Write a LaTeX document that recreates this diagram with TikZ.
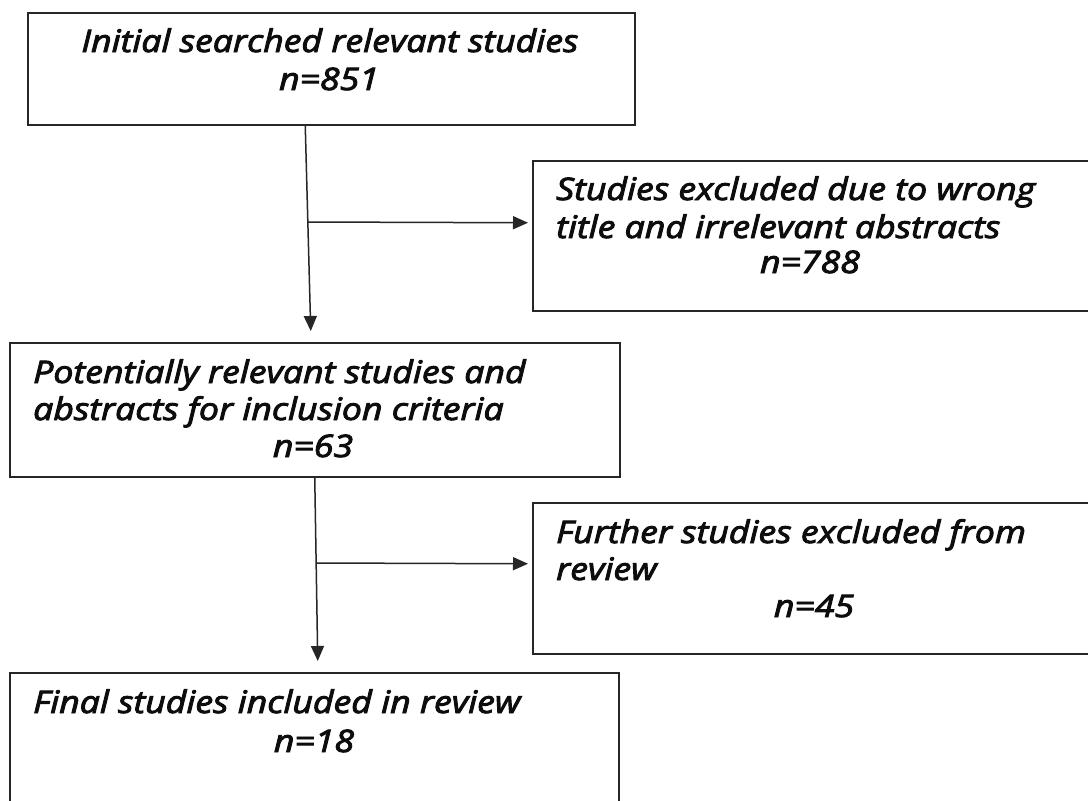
\documentclass[tikz,border=0pt]{standalone}
\usepackage{fontspec}
\setmainfont{Open Sans}
\newfontfamily\boxfont{Open Sans}[ItalicFeatures={FakeBold=3, FakeStretch=1.15}]
\usepackage{tikz}
\usetikzlibrary{positioning}
\usetikzlibrary{arrows.meta}
\tikzset{>={Triangle[length=15pt,width=13pt]}}
\tikzset{stagebox/.style={draw=black!85, line width=1.5pt, rectangle, inner sep=0pt, anchor=north west},
  boxtext/.style={font=\boxfont\itshape\fontsize{31}{37}\selectfont, inner sep=0pt, text=black!95},
  flowline/.style={draw=black!85, line width=1.5pt}}

\begin{document}
\begin{tikzpicture}[x=1pt, y=-1pt]
\useasboundingbox (0,0) rectangle (1088,801);
\clip (0,0) rectangle (1088,801);
\fill[white] (0,0) rectangle (1088,801);
% boxes
\node[stagebox, minimum width=607pt, minimum height=112pt] (init) at (27,12) {};
\node[stagebox, minimum width=600pt, minimum height=150pt] (excl) at (532,160) {};
\node[stagebox, minimum width=610pt, minimum height=134pt] (potl) at (9,342) {};
\node[stagebox, minimum width=600pt, minimum height=151pt] (furt) at (532,502) {};
\node[stagebox, minimum width=609pt, minimum height=200pt] (finl) at (9,672) {};
% texts
\node[boxtext, anchor=base] (inita) at (330,52) {Initial searched relevant studies};
\node[boxtext, anchor=base] (initn) at (329,90) {n=851};
\node[boxtext, anchor=base west] (excla) at (556,200) {Studies excluded due to wrong};
\node[boxtext, anchor=base west] (exclb) at (556,238) {title and irrelevant abstracts};
\node[boxtext, anchor=base] (excln) at (810,273) {n=788};
\node[boxtext, anchor=base west] (potla) at (33,383) {Potentially relevant studies and};
\node[boxtext, anchor=base west] (potlb) at (33,420) {abstracts for inclusion criteria};
\node[boxtext, anchor=base] (potln) at (313,457) {n=63};
\node[boxtext, anchor=base west] (furta) at (556,543) {Further studies excluded from};
\node[boxtext, anchor=base west] (furtb) at (556,580) {review};
\node[boxtext, anchor=base] (furtn) at (814,617) {n=45};
\node[boxtext, anchor=base west] (finla) at (33,713) {Final studies included in review};
\node[boxtext, anchor=base] (finln) at (314,752) {n=18};
% connectors
\coordinate (split1) at (308,222);
\coordinate (split2) at (316,563);
\draw[flowline,->] ([xshift=-26pt]init.south) -- ([xshift=-4pt,yshift=11pt]potl.north);
\draw[flowline,->] (split1) -- ([xshift=-4pt,yshift=13pt]excl.west);
\draw[flowline,->] (potl.south) -- ([xshift=3.5pt,yshift=11pt]finl.north);
\draw[flowline,->] (split2) -- ([xshift=-4pt,yshift=14.5pt]furt.west);
\end{tikzpicture}
\end{document}
